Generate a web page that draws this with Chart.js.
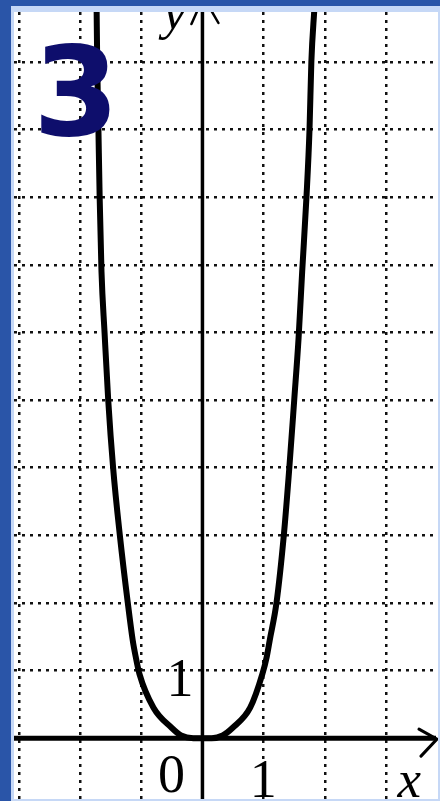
<!DOCTYPE html>
<html><head><meta charset="utf-8">
<script src="https://cdn.jsdelivr.net/npm/chart.js@4/dist/chart.umd.min.js"></script>
<style>
html,body{margin:0;padding:0;width:440px;height:801px;overflow:hidden;background:#2a55a8;}
#frame{position:absolute;left:11px;top:6px;width:429px;height:795px;background:#c6d8f6;}
#panel{position:absolute;left:14px;top:12px;width:424px;height:787px;background:#fff;}
canvas{position:absolute;left:0;top:0;}
</style></head><body>
<div id="frame"></div>
<div id="panel"><canvas id="c" width="424" height="787"></canvas></div>
<script>
// curve (x, y in grid units)
const curveX = [-1.73,-1.72,-1.70,-1.68,-1.65,-1.60,-1.54,-1.46,-1.35,-1.22,-1.14,-1.09,-1.03,-0.80,-0.50,-0.35,-0.15,0,0.15,0.33,0.49,0.78,0.98,1.05,1.10,1.21,1.33,1.42,1.50,1.57,1.63,1.70,1.75,1.78,1.83];
const curveY = [10.8,10.0,9.0,8.0,6.9,6.0,5.0,4.0,3.0,2.0,1.45,1.2,0.95,0.45,0.15,0.04,0.0,0,0.0,0.04,0.15,0.45,0.95,1.2,1.45,2.0,3.0,4.0,5.0,5.9,6.9,8.0,9.0,10.0,10.8];
const gridXTicks = [-3,-2,-1,1,2,3];
const gridYTicks = [1,2,3,4,5,6,7,8,9,10];
const xRange = [-3.08, 3.85];
const yRange = [-0.90, 10.74];
const originLabel = '0';
const xTickLabel = '1';
const yTickLabel = '1';
const xName = 'x';
const yName = 'y';
const badge = '3';

function txt(ctx, s, font, cx, bottom, color, leftEdge){
  ctx.save();
  ctx.font = font; ctx.textAlign='left'; ctx.textBaseline='alphabetic';
  const m = ctx.measureText(s);
  const w = m.actualBoundingBoxLeft + m.actualBoundingBoxRight;
  const x = (leftEdge !== undefined ? leftEdge : cx - w/2) + m.actualBoundingBoxLeft;
  const y = bottom - m.actualBoundingBoxDescent;
  ctx.fillStyle = color; ctx.fillText(s, x, y);
  ctx.restore();
}

const axesPlugin = {
  id:'axesPlugin',
  beforeDatasetsDraw(chart){
    const {ctx, scales:{x, y}} = chart;
    const x0 = x.getPixelForValue(0), y0 = y.getPixelForValue(0);
    ctx.save();
    ctx.strokeStyle = '#000';
    ctx.lineWidth = 3.5;
    ctx.beginPath(); ctx.moveTo(x0, chart.height); ctx.lineTo(x0, -20); ctx.stroke();
    ctx.lineWidth = 5;
    ctx.beginPath(); ctx.moveTo(0, y0); ctx.lineTo(x.right - 2, y0); ctx.stroke();
    const tx = x.right - 1;
    ctx.lineWidth = 3; ctx.lineCap = 'round';
    ctx.beginPath(); ctx.moveTo(tx - 18, y0 - 9); ctx.lineTo(tx, y0 + 1); ctx.lineTo(tx - 16, y0 + 18); ctx.stroke();
    ctx.lineWidth = 2.5;
    ctx.beginPath(); ctx.moveTo(x0 - 11, 12); ctx.lineTo(x0 + 1, -15); ctx.lineTo(x0 + 16, 11); ctx.stroke();
    ctx.restore();
  },
  afterDraw(chart){
    const {ctx, scales:{x, y}} = chart;
    const x0 = x.getPixelForValue(0), y0 = y.getPixelForValue(0);
    const serif = '"Liberation Serif","Times New Roman",serif';
    txt(ctx, yTickLabel, '54px ' + serif, x0 - 22, y.getPixelForValue(1) + 25, '#000');
    txt(ctx, xTickLabel, '54px ' + serif, x.getPixelForValue(1), y0 + 59, '#000');
    txt(ctx, originLabel, '54px ' + serif, x0 - 31, y0 + 55, '#000');
    txt(ctx, xName, 'italic 53px ' + serif, x.getPixelForValue(3) + 23, y0 + 59, '#000');
    txt(ctx, yName, 'italic 52px ' + serif, x0 - 30, y.getPixelForValue(10) - 22, '#000');
    txt(ctx, badge, 'bold 124px "DejaVu Sans",sans-serif', 0, 125, '#0e0e6c', 27);
  }
};

new Chart(document.getElementById('c'), {
  type:'scatter',
  data:{datasets:[{
    data: curveX.map((v,i)=>({x:v, y:curveY[i]})),
    showLine:true, borderColor:'#000', borderWidth:6, pointRadius:0,
    cubicInterpolationMode:'monotone', fill:false, clip:0,
    borderCapStyle:'round', borderJoinStyle:'round'
  }]},
  options:{
    responsive:false, animation:false, devicePixelRatio:1,
    layout:{padding:0},
    plugins:{legend:{display:false}, tooltip:{enabled:false}},
    scales:{
      x:{type:'linear', min:xRange[0], max:xRange[1],
         afterBuildTicks:s=>{s.ticks = gridXTicks.map(v=>({value:v}));},
         ticks:{display:false}, grid:{color:'#111', lineWidth:2.5, drawTicks:false},
         border:{display:false, dash:[3,5]}},
      y:{type:'linear', min:yRange[0], max:yRange[1],
         afterBuildTicks:s=>{s.ticks = gridYTicks.map(v=>({value:v}));},
         ticks:{display:false}, grid:{color:'#111', lineWidth:2.5, drawTicks:false},
         border:{display:false, dash:[3,5]}}
    }
  },
  plugins:[axesPlugin]
});
</script>
</body></html>
